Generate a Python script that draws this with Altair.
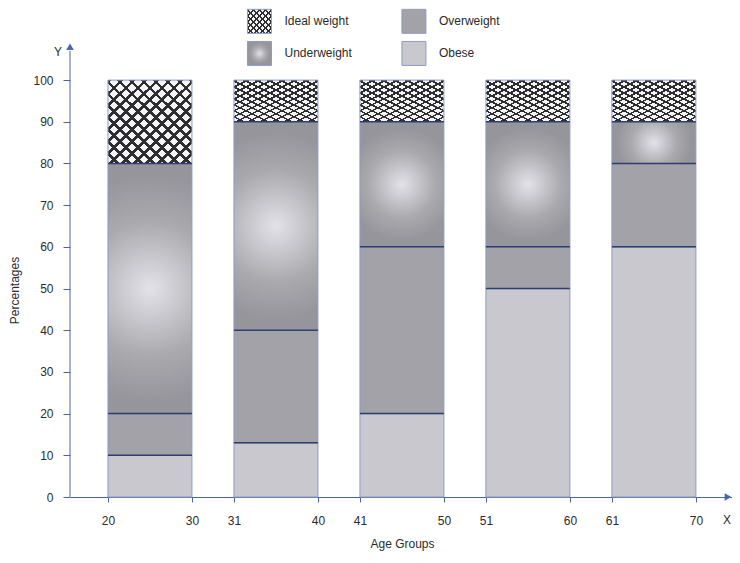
import json
import altair as alt
import pandas as pd

# ---------------- data ----------------
lower = [20, 31, 41, 51, 61]
upper = [30, 40, 50, 60, 70]
categories = ["Obese", "Overweight", "Underweight", "Ideal weight"]
obese = [10, 13, 20, 50, 60]
overweight = [10, 27, 40, 10, 20]
underweight = [60, 50, 30, 30, 10]
ideal = [20, 10, 10, 10, 10]
y_ticks = list(range(0, 101, 10))
legend_names = ["Ideal weight", "Overweight", "Underweight", "Obese"]
legend_col = [0, 1, 0, 1]
legend_row = [0, 0, 1, 1]
x_title = "Age Groups"
y_title = "Percentages"

series = [obese, overweight, underweight, ideal]
rows = []
for gi in range(len(lower)):
    for ci, (cat, vals) in enumerate(zip(categories, series)):
        rows.append({"idx": gi, "cat": cat, "order": ci, "value": vals[gi]})
df = pd.DataFrame(rows)
leg_df = pd.DataFrame({"name": legend_names, "col": legend_col, "row": legend_row})

# ---------------- style ----------------
FONT = "Liberation Sans"
TXT = "#2b2b2b"
AXIS = "#4a66a6"
NAVY = "#2c3e6e"
EDGE = "#8d9bc6"
C_OBESE = "#c9c8cf"
C_OVER = "#a3a2a8"
STEP = 1.5  # bar period in bar widths
XMIN, XMAX = -0.452, 7.43
YMAX = 117.3
ARROW_Y = 108
# legend placement (in data units of the plot)
LEG_X0, LEG_DX = 1.804, 1.839
LEG_Y0, LEG_DY = 114.1, -7.7

XS = alt.Scale(domain=[XMIN, XMAX], nice=False, zero=False)
YS = alt.Scale(domain=[0, YMAX], nice=False, zero=False)


def stripes(n, f, dark, light, x1, y1, x2, y2):
    stops = []
    for k in range(n):
        a, b, c = k / n, (k + f) / n, (k + 1) / n
        stops += [
            alt.GradientStop(offset=round(a, 5), color=dark),
            alt.GradientStop(offset=round(b, 5), color=dark),
            alt.GradientStop(offset=round(b, 5), color=light),
            alt.GradientStop(offset=round(c, 5), color=light),
        ]
    return alt.LinearGradient(gradient="linear", stops=stops, x1=x1, y1=y1, x2=x2, y2=y2)


HATCH_A = stripes(14, 0.3, "#2e2e30", "#f4f4f4", 0, 0, 1, 1)
HATCH_B = stripes(14, 0.3, "#2e2e30", "rgba(0,0,0,0)", 1, 0, 0, 1)
LHATCH_A = stripes(8, 0.32, "#2e2e30", "#f4f4f4", 0, 0, 1, 1)
LHATCH_B = stripes(8, 0.32, "#2e2e30", "rgba(0,0,0,0)", 1, 0, 0, 1)
RADIAL = alt.RadialGradient(
    gradient="radial",
    stops=[
        alt.GradientStop(offset=0, color="#e2e2e8"),
        alt.GradientStop(offset=0.6, color="#a9a9ae"),
        alt.GradientStop(offset=1, color="#95959b"),
    ],
    x1=0.5, y1=0.5, r1=0, x2=0.5, y2=0.5, r2=0.45,
)

tick_pos = []
tick_lab = []
for i, (lo, hi) in enumerate(zip(lower, upper)):
    tick_pos += [i * STEP, i * STEP + 1]
    tick_lab += [str(lo), str(hi)]
label_expr = f"{json.dumps(tick_lab)}[indexof({json.dumps(tick_pos)}, datum.value)]"

base = (
    alt.Chart(df)
    .transform_stack(stack="value", groupby=["idx"], as_=["y0", "y1"],
                     sort=[alt.SortField(field="order", order="ascending")])
    .transform_calculate(xs=f"datum.idx * {STEP}", xe=f"datum.idx * {STEP} + 1")
)

XA = alt.Axis(
    values=tick_pos, labelExpr=label_expr, grid=False,
    domain=True, domainColor=AXIS, domainWidth=1,
    ticks=True, tickColor=AXIS, tickSize=5,
    labelFont=FONT, labelFontSize=12, labelColor=TXT, labelPadding=13,
    title=x_title, titleFont=FONT, titleFontSize=12, titleFontWeight="normal",
    titleColor=TXT, titleX=332, titleY=46, titleBaseline="middle", titleAlign="center",
)
YA = alt.Axis(
    values=y_ticks, grid=False, domain=False,
    ticks=True, tickColor=AXIS, tickSize=7,
    labelFont=FONT, labelFontSize=12, labelColor=TXT, labelPadding=10,
    title=y_title, titleFont=FONT, titleFontSize=12, titleFontWeight="normal",
    titleColor=TXT, titleX=-56, titleY=282, titleBaseline="middle", titleAlign="center",
    titleAngle=270,
)


def X(field=None, datum=None):
    if field is not None:
        return alt.X(field, scale=XS, axis=XA)
    return alt.X(datum=datum, scale=XS, axis=XA)


def Y(field=None, datum=None):
    if field is not None:
        return alt.Y(field, scale=YS, axis=YA)
    return alt.Y(datum=datum, scale=YS, axis=YA)


def seg(cat, fill, stroke=True):
    kw = dict(fill=fill)
    if stroke:
        kw.update(stroke=EDGE, strokeWidth=1)
    else:
        kw.update(strokeWidth=0)
    return base.transform_filter(alt.datum.cat == cat).mark_rect(**kw).encode(
        x=X("xs:Q"), x2="xe:Q", y=Y("y0:Q"), y2="y1:Q",
    )


obese_l = seg("Obese", C_OBESE)
over_l = seg("Overweight", C_OVER)
under_l = seg("Underweight", RADIAL)
ideal_a = seg("Ideal weight", HATCH_A, stroke=False)
ideal_b = seg("Ideal weight", HATCH_B)

bounds = base.transform_filter(alt.datum.cat != "Ideal weight").mark_rule(
    color=NAVY, strokeWidth=1.5
).encode(x=X("xs:Q"), x2="xe:Q", y=Y("y1:Q"))

one = alt.Chart(pd.DataFrame({"k": [0]}))
yline = one.mark_rule(color=AXIS, strokeWidth=1).encode(
    x=X(datum=XMIN), y=Y(datum=0), y2=alt.Y2(datum=ARROW_Y - 1),
)
yarrow = one.mark_point(shape="triangle-up", filled=True, size=60, color=AXIS, opacity=1).encode(
    x=X(datum=XMIN), y=Y(datum=ARROW_Y)
)
xarrow = one.mark_point(shape="triangle-right", filled=True, size=60, color=AXIS, opacity=1, xOffset=-4).encode(
    x=X(datum=XMAX), y=Y(datum=0)
)
ylab = one.mark_text(text="Y", font=FONT, fontSize=12, color=TXT, dx=-12, dy=5).encode(
    x=X(datum=XMIN), y=Y(datum=ARROW_Y)
)
xlab = one.mark_text(text="X", font=FONT, fontSize=12, color=TXT, align="right", dx=-1, dy=23).encode(
    x=X(datum=XMAX), y=Y(datum=0)
)

# ---------------- legend ----------------
leg = alt.Chart(leg_df).transform_calculate(
    lx=f"{LEG_X0} + datum.col * {LEG_DX}", ly=f"{LEG_Y0} + datum.row * {LEG_DY}"
)


def leg_sq(name, fill, stroke=True):
    kw = dict(shape="square", size=576, fill=fill, filled=True, opacity=1)
    if stroke:
        kw.update(stroke=EDGE, strokeWidth=1)
    else:
        kw.update(strokeWidth=0)
    return leg.transform_filter(alt.datum.name == name).mark_point(**kw).encode(
        x=X("lx:Q"), y=Y("ly:Q")
    )


leg_text = leg.mark_text(align="left", baseline="middle", dx=25, font=FONT, fontSize=12, color=TXT).encode(
    x=X("lx:Q"), y=Y("ly:Q"), text="name:N"
)

chart = (
    alt.layer(
        obese_l, over_l, under_l, ideal_a, ideal_b, bounds,
        yline, yarrow, xarrow, ylab, xlab,
        leg_sq("Ideal weight", LHATCH_A, stroke=False),
        leg_sq("Ideal weight", LHATCH_B),
        leg_sq("Underweight", RADIAL),
        leg_sq("Overweight", C_OVER),
        leg_sq("Obese", C_OBESE),
        leg_text,
    )
    .properties(
        width=662, height=489,
        autosize=alt.AutoSizeParams(type="none"),
        padding={"left": 62, "top": 0, "right": 0, "bottom": 58},
        background="white",
    )
    .configure_view(stroke=None)
)

chart.save("out.html", embed_options={"renderer": "svg", "actions": False})
